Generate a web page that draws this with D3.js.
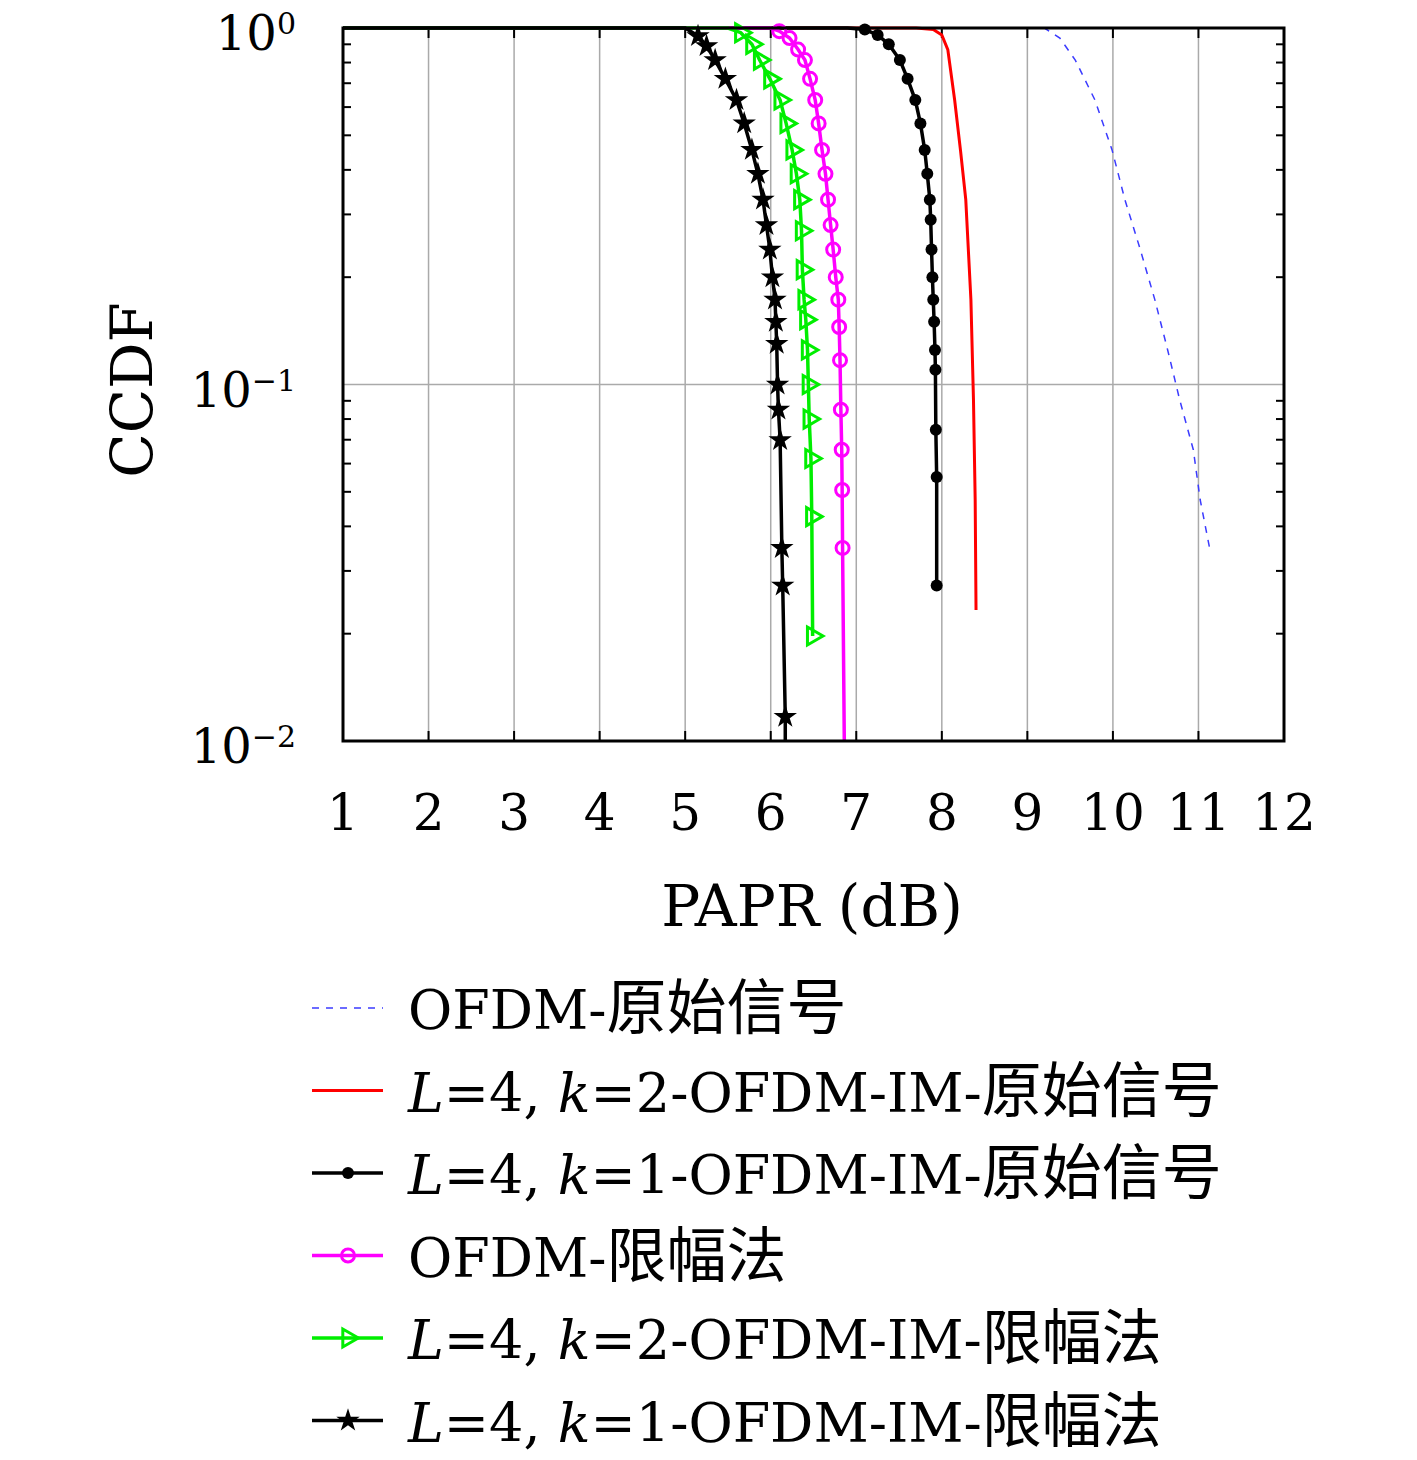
<!DOCTYPE html>
<html><head><meta charset="utf-8">
<script src="https://cdn.jsdelivr.net/npm/d3@7"></script>
<style>body{margin:0;background:#fff}</style>
</head><body><div id="chart"></div>
<script>
// data: [PAPR dB, CCDF]
var ofdmOrig = [[1,1],[9.2,1],[9.38,0.937],[9.56,0.813],[9.79,0.628],[9.99,0.455],[10.14,0.33],[10.32,0.239],[10.49,0.173],[10.64,0.125],[10.78,0.0907],[10.94,0.0656],[11.02,0.0475],[11.13,0.0348]];
var imK2Orig = [[1,1],[7.7,1],[7.9,0.99],[8.0,0.956],[8.07,0.87],[8.15,0.628],[8.22,0.45],[8.28,0.33],[8.34,0.173],[8.37,0.0907],[8.39,0.0475],[8.40,0.0233]];
var imK1Orig = [[1,1],[6.9,1],[7.1,0.99],[7.25,0.956],[7.38,0.9],[7.51,0.813],[7.6,0.72],[7.69,0.628],[7.75,0.54],[7.8,0.455],[7.83,0.39],[7.86,0.33],[7.87,0.29],[7.88,0.239],[7.89,0.2],[7.9,0.173],[7.91,0.15],[7.92,0.125],[7.925,0.11],[7.93,0.0747],[7.94,0.055],[7.94,0.0273]];
var ofdmClip = [[1,1],[6.0,1],[6.1,0.98],[6.22,0.937],[6.32,0.87],[6.4,0.813],[6.46,0.72],[6.52,0.628],[6.56,0.54],[6.6,0.455],[6.64,0.39],[6.67,0.33],[6.7,0.28],[6.73,0.239],[6.76,0.2],[6.79,0.173],[6.8,0.145],[6.81,0.117],[6.82,0.085],[6.83,0.0656],[6.835,0.0506],[6.84,0.0348],[6.86,0.01]];
var imK2Clip = [[1,1],[5.5,1],[5.65,0.97],[5.78,0.9],[5.87,0.813],[5.99,0.72],[6.11,0.628],[6.18,0.54],[6.25,0.455],[6.3,0.39],[6.34,0.33],[6.36,0.27],[6.37,0.21],[6.39,0.173],[6.41,0.152],[6.43,0.125],[6.44,0.1],[6.45,0.08],[6.47,0.062],[6.48,0.0426],[6.49,0.0197]];
var imK1Clip = [[1,1],[5.0,1],[5.15,0.95],[5.25,0.89],[5.35,0.813],[5.47,0.72],[5.6,0.628],[5.69,0.54],[5.78,0.455],[5.85,0.39],[5.91,0.33],[5.95,0.28],[5.99,0.239],[6.02,0.2],[6.05,0.173],[6.06,0.15],[6.07,0.13],[6.08,0.1],[6.09,0.085],[6.11,0.0699],[6.13,0.0348],[6.14,0.0273],[6.17,0.0117],[6.17,0.01]];

var series = [
  {name:"OFDM-原始信号", data:ofdmOrig, color:"#3b3bff", dash:"7,7", marker:null, w:1.5},
  {name:"L=4, k=2-OFDM-IM-原始信号", data:imK2Orig, color:"#ff0000", marker:null, w:3},
  {name:"L=4, k=1-OFDM-IM-原始信号", data:imK1Orig, color:"#000", marker:"dot", w:3.5},
  {name:"OFDM-限幅法", data:ofdmClip, color:"#ff00ff", marker:"circle", w:3.5},
  {name:"L=4, k=2-OFDM-IM-限幅法", data:imK2Clip, color:"#00ee00", marker:"tri", w:3.5},
  {name:"L=4, k=1-OFDM-IM-限幅法", data:imK1Clip, color:"#000", marker:"star", w:3.5}
];
var xTicks = [1,2,3,4,5,6,7,8,9,10,11,12];
var yTicks = [1, 0.1, 0.01];

var svg = d3.select("#chart").append("svg").attr("width",1417).attr("height",1460);
var x = d3.scaleLinear().domain([1,12]).range([343,1284]);
var y = d3.scaleLog().domain([0.01,1]).range([741,28]);
var serif = "'DejaVu Serif', serif";
var cjk = "'Noto Sans CJK SC'";

// grid
svg.append("g").selectAll("line").data(xTicks).enter().append("line")
  .attr("x1",d=>x(d)).attr("x2",d=>x(d)).attr("y1",28).attr("y2",741)
  .attr("stroke","#aaa").attr("stroke-width",1.5);
svg.append("g").selectAll("line").data(yTicks).enter().append("line")
  .attr("x1",343).attr("x2",1284).attr("y1",d=>y(d)).attr("y2",d=>y(d))
  .attr("stroke","#aaa").attr("stroke-width",1.5);

// ticks inside
var minor = [];
[0.01,0.1].forEach(function(b){ for (var i=2;i<10;i++) minor.push(b*i); });
var tg = svg.append("g").attr("stroke","#000").attr("stroke-width",2);
xTicks.forEach(function(t){
  tg.append("line").attr("x1",x(t)).attr("x2",x(t)).attr("y1",741).attr("y2",731);
  tg.append("line").attr("x1",x(t)).attr("x2",x(t)).attr("y1",28).attr("y2",38);
});
minor.forEach(function(t){
  tg.append("line").attr("x1",343).attr("x2",351).attr("y1",y(t)).attr("y2",y(t));
  tg.append("line").attr("x1",1284).attr("x2",1276).attr("y1",y(t)).attr("y2",y(t));
});

var line = d3.line().x(d=>x(d[0])).y(d=>y(d[1]));
function marker(g, type, color, cx, cy){
  if (type=="dot") g.append("circle").attr("cx",cx).attr("cy",cy).attr("r",6).attr("fill",color);
  else if (type=="circle") g.append("circle").attr("cx",cx).attr("cy",cy).attr("r",6.5).attr("fill","none").attr("stroke",color).attr("stroke-width",3);
  else if (type=="tri") g.append("path").attr("d",d3.symbol().type(d3.symbolTriangle).size(140)()).attr("transform",`translate(${cx},${cy}) rotate(90)`).attr("fill","none").attr("stroke",color).attr("stroke-width",3);
  else if (type=="star") g.append("path").attr("d",d3.symbol().type(d3.symbolStar).size(170)()).attr("transform",`translate(${cx},${cy})`).attr("fill",color);
}
var plot = svg.append("g");
series.forEach(function(s){
  plot.append("path").datum(s.data).attr("d",line).attr("fill","none")
    .attr("stroke",s.color).attr("stroke-width",s.w).attr("stroke-dasharray",s.dash||null);
  if (s.marker) s.data.slice(2).forEach(function(d){
    if (d[1] > 0.01) marker(plot, s.marker, s.color, x(d[0]), y(d[1]));
  });
});

// frame
svg.append("rect").attr("x",343).attr("y",28).attr("width",941).attr("height",713)
  .attr("fill","none").attr("stroke","#000").attr("stroke-width",3);

// tick labels
svg.append("g").selectAll("text").data(xTicks).enter().append("text")
  .attr("x",d=>x(d)).attr("y",830).attr("text-anchor","middle")
  .attr("font-family",serif).attr("font-size",50).text(d=>d);
yTicks.forEach(function(t){
  var e = Math.round(Math.log10(t));
  var tx = svg.append("text").attr("x",296).attr("y",y(t)+22).attr("text-anchor","end")
    .attr("font-family",serif).attr("font-size",48);
  tx.append("tspan").text("10");
  tx.append("tspan").attr("dy",-16).attr("font-size",30).text(e==0?"0":"\u2212"+(-e));
});
svg.append("text").attr("x",812).attr("y",926).attr("text-anchor","middle")
  .attr("font-family",serif).attr("font-size",58).text("PAPR (dB)");
svg.append("text").attr("transform","translate(152,390) rotate(-90)").attr("text-anchor","middle")
  .attr("font-family",serif).attr("font-size",58).text("CCDF");

// legend
var lg = svg.append("g");
series.forEach(function(s,i){
  var ly = 1008 + i*82.5;
  lg.append("line").attr("x1",312).attr("x2",383).attr("y1",ly).attr("y2",ly)
    .attr("stroke",s.color).attr("stroke-width",s.w).attr("stroke-dasharray",s.dash||null);
  if (s.marker) marker(lg, s.marker, s.color, 348, ly);
  var t = lg.append("text").attr("x",408).attr("y",ly+21).attr("font-family",serif).attr("font-size",54);
  var m = s.name.match(/^L=4, k=(\d)(-.*)$/);
  if (m) {
    t.append("tspan").attr("font-style","italic").text("L");
    t.append("tspan").text("=4, ");
    t.append("tspan").attr("font-style","italic").text("k");
    t.append("tspan").text("="+m[1]+m[2].replace(/[\u4e00-\u9fff]+$/,""));
    t.append("tspan").attr("font-family",cjk).attr("font-size",60).text(m[2].match(/[\u4e00-\u9fff]+$/)[0]);
  } else {
    var mm = s.name.match(/^(.*-)([\u4e00-\u9fff]+)$/);
    t.append("tspan").text(mm[1]);
    t.append("tspan").attr("font-family",cjk).attr("font-size",60).text(mm[2]);
  }
});
</script></body></html>
